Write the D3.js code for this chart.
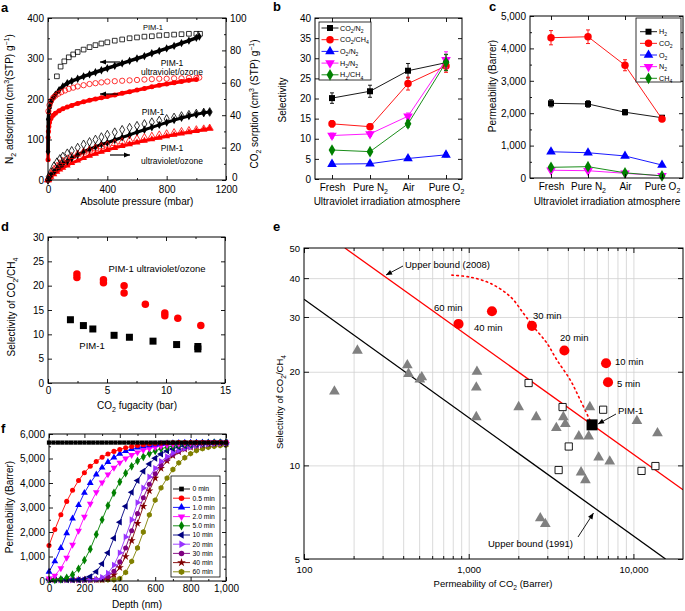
<!DOCTYPE html>
<html><head><meta charset="utf-8">
<script src="https://cdn.jsdelivr.net/npm/d3@7/dist/d3.min.js"></script>
<style>html,body{margin:0;padding:0;background:#fff}svg{display:block}</style>
</head><body>
<svg id="chart" width="685" height="611"></svg>
<script>
// ================= DATA =================
// ---- Panel a (N2 left axis, CO2 right axis) ----
const aXTicks=[0,400,800,1200], aXMinor=[200,600,1000];
const aYTicks=[0,100,200,300,400], aYMinor=[50,150,250,350];
const aY2Ticks=[0,20,40,60,80,100], aY2Minor=[10,30,50,70,90];
const aPimN2AdsP=[0.5,2,5,10,20,35,50,75,100,130,160,200,240,280,320,360,400,450,500,550,600,650,700,750,800,850,900,950,1000,1020];
const aPimN2Ads =[70,150,165,178,192,203,211,222,231,239,244,250,256,261,266,271,276,282,288,294,300,306,313,319,325,331,338,344,351,354];
const aPimN2DesP=[60,85,110,140,170,200,240,280,320,360,400,450,500,550,600,650,700,750,800,850,900,950,1000,1025];
const aPimN2Des =[256,280,293,303,310,316,322,328,333,337,340,344,347,350,352,354,355,357,358,359,360,361,361,361];
const aUvN2AdsP=[0.5,1,3,6,10,20,35,50,75,100,130,160,200,240,280,320,360,400,450,500,550,600,650,700,750,800,850,900,950,1000];
const aUvN2Ads =[50,105,120,132,142,152,160,165,171,176,180,184,189,193,197,200,203,206,210,214,218,222,226,230,234,237,240,243,246,248];
const aUvN2DesP=[3,10,20,35,50,70,90,115,140,170,200,240,280,320,360,400,450,500,550,600,650,700,750,800,850,900,950,1000,1020];
const aUvN2Des =[170,185,195,203,208,213,217,221,225,228,231,234,237,239,241,243,244,245,246,247,248,249,250,250,251,251,252,252,253];
const aCo2P=[0,5,20,40,60,80,100,130,160,200,240,280,320,360,400,450,500,550,600,650,700,750,800,850,900,950,1000,1050,1090];
const aPimCo2Des=[0,2,5,8.5,11,13,14.5,16.5,18,20,22,23.5,25,26.5,28,29.5,31,32.3,33.5,34.6,35.7,36.7,37.7,38.6,39.5,40.3,41,41.7,42];
const aPimCo2Ads=[0,1,3,5,7,8.5,10,11.5,13.5,15.5,17.5,19,20.5,22,23,24.7,26.3,27.8,29.5,31,32.5,34,35.5,37,38.3,39.5,40.5,41.5,42];
const aUvCo2Des=[0,1.5,4,6.5,8.5,10,11.5,13,14.5,16,17.3,18.5,19.6,20.6,21.6,22.6,23.6,24.5,25.4,26.2,27,27.8,28.5,29.2,29.9,30.5,31,31.5,32];
const aUvCo2Ads=[0,0.5,2,3.5,5,6.5,7.5,9,10.5,12,13.5,15,16.2,17.4,18.5,19.8,21,22.1,23.2,24.2,25.2,26.1,27,27.9,28.7,29.5,30.3,31.1,31.8];

// ---- Panel b (selectivity) ----
const bCategories=["Fresh","Pure N{_2}","Air","Pure O{_2}"];
const bYTicks=[0,5,10,15,20,25,30,35,40];
const bNames=["CO{_2}/N{_2}","CO{_2}/CH{_4}","O{_2}/N{_2}","H{_2}/N{_2}","H{_2}/CH{_4}"];
const bCO2N2=[20.1,21.8,26.9,28.9],  bCO2N2Err=[1.3,1.5,1.8,2.0];
const bCO2CH4=[13.7,13.0,23.7,28.1], bCO2CH4Err=[0.8,0.7,1.6,1.6];
const bO2N2=[3.7,3.8,5.1,6.0],       bO2N2Err=[0.5,0.4,0.5,0.5];
const bH2N2=[10.8,11.2,15.6,29.6],   bH2N2Err=[0.6,0.6,0.8,2.0];
const bH2CH4=[7.2,6.8,13.7,29.0],    bH2CH4Err=[0.4,0.4,0.8,2.0];

// ---- Panel c (permeability) ----
const cYTicks=[0,1000,2000,3000,4000,5000], cYMinor=[500,1500,2500,3500,4500];
const cNames=["H{_2}","CO{_2}","O{_2}","N{_2}","CH{_4}"];
const cH2=[2305,2285,2030,1860],  cH2Err=[110,100,80,70];
const cCO2=[4330,4360,3480,1820], cCO2Err=[220,210,170,80];
const cO2=[810,780,680,400],      cO2Err=[50,50,40,30];
const cN2=[240,225,145,70],       cN2Err=[20,20,15,10];
const cCH4=[330,350,160,65],      cCH4Err=[20,20,15,10];

// ---- Panel d ----
const dXTicks=[0,5,10,15], dXMinor=[2.5,7.5,12.5], dYTicks=[0,5,10,15,20,25,30];
const dUvX=[2.45,2.45,4.7,4.7,6.45,6.45,8.25,9.9,9.9,11.0,12.95];
const dUvY=[22.4,21.7,21.2,20.6,20.0,18.5,16.2,14.4,13.8,13.3,11.8];
const dPimX=[1.9,3.0,3.8,5.6,6.9,8.9,10.9,12.7,12.7];
const dPimY=[13.0,11.8,11.1,9.8,9.4,8.6,7.9,7.5,7.0];

// ---- Panel e (Robeson plot) ----
const eXTicks=[100,1000,10000], eXMinor=[200,300,400,500,600,700,800,900,2000,3000,4000,5000,6000,7000,8000,9000];
const eYTicks=[5,10,20,30,40,50], eYGrid=[10,20,30,40];
const eTriP=[211,153,424,431,505,519,1122,1112,1112,2010,2570,3404,3754,3860,4660,5350,5440,6150,7180,4810,5110,10500,14000,2720,2917];
const eTriS=[23.4,17.3,21.0,19.7,18.9,19.2,20.0,17.8,14.3,15.4,14.3,13.2,14.3,13.6,12.4,12.4,15.4,10.6,10.3,9.5,8.97,13.9,12.7,6.76,6.48];
const eSqP=[2310,3715,6550,4050,3515,11200,13600];
const eSqS=[18.4,15.4,15.1,11.5,9.66,9.6,9.95];
const eUvP=[867,1384,2421,3810,6820,7010];
const eUvS=[28.5,31.3,28.1,23.4,21.3,18.5];
const eUvLabels=["60 min","40 min","30 min","20 min","10 min","5 min"];
const ePimP=[5610], ePimS=[13.5];
const eBound2008P=[177,20000], eBound2008S=[50,8.35];
const eBound1991P=[100,15670], eBound1991S=[34.2,5];
const eDotP=[791,1021,1351,1787,2152,2476,2987,3436,4140,4763,5610];
const eDotS=[40.9,40.3,38.5,34.9,30.8,27.9,24.7,21.8,18.8,16.2,13.5];

// ---- Panel f (depth profiles) ----
const fXTicks=[0,200,400,600,800,1000], fXMinor=[100,300,500,700,900];
const fYTicks=[0,1000,2000,3000,4000,5000,6000], fYMinor=[500,1500,2500,3500,4500,5500];
const fLabels=["0 min","0.5 min","1.0 min","2.0 min","5.0 min","10 min","20 min","30 min","40 min","60 min"];
const f0Depth=[0,25,50,75,100,125,150,175,200,225,250,275,300,325,350,375,400,425,450,475,500,525,550,575,600,625,650,675,700,725,750,775,800,825,850,875,900,925,950,975,1000];
const f0Perm=[5650,5650,5650,5650,5650,5650,5650,5650,5650,5650,5650,5650,5650,5650,5650,5650,5650,5650,5650,5650,5650,5650,5650,5650,5650,5650,5650,5650,5650,5650,5650,5650,5650,5650,5650,5650,5650,5650,5650,5650,5650];
const fDepth=[0,33,67,100,133,167,200,233,267,300,333,367,400,433,467,500,533,567,600,633,667,700,733,767,800,833,867,900,933,967,1000];
const f05=[1450,2100,2700,3250,3700,4100,4420,4680,4880,5050,5180,5290,5370,5440,5490,5530,5560,5590,5610,5625,5635,5645,5650,5650,5650,5650,5650,5650,5650,5650,5650];
const f10=[380,800,1350,1950,2550,3100,3600,4000,4350,4630,4860,5040,5190,5300,5390,5450,5500,5540,5570,5600,5620,5630,5640,5650,5650,5650,5650,5650,5650,5650,5650];
const f20=[100,220,520,950,1480,2050,2620,3150,3620,4020,4350,4620,4830,5000,5140,5250,5340,5410,5460,5510,5550,5580,5600,5620,5630,5640,5650,5650,5650,5650,5650];
const f50=[50,50,70,130,260,500,850,1300,1900,2500,3080,3600,4050,4400,4680,4900,5070,5200,5310,5400,5460,5510,5550,5580,5600,5620,5630,5640,5650,5650,5650];
const f100=[50,50,50,50,50,50,80,180,380,700,1150,1750,2400,3050,3620,4100,4480,4780,5010,5180,5310,5400,5470,5520,5560,5590,5610,5630,5640,5650,5650];
const f200=[50,50,50,50,50,50,50,50,70,150,320,650,1150,1800,2500,3200,3800,4250,4600,4880,5080,5230,5340,5420,5480,5530,5560,5590,5610,5620,5630];
const f300=[50,50,50,50,50,50,50,50,50,80,180,400,780,1350,2050,2750,3400,3950,4380,4720,4980,5160,5300,5400,5470,5520,5560,5590,5610,5620,5630];
const f400=[50,50,50,50,50,50,50,50,50,50,100,250,550,1000,1650,2350,3050,3680,4200,4600,4900,5120,5270,5380,5460,5510,5550,5580,5600,5610,5620];
const f600=[50,50,50,50,50,50,50,50,50,50,50,50,100,350,800,1350,2000,2700,3300,3800,4200,4550,4820,5030,5200,5320,5400,5460,5500,5530,5550];

// ================= HELPERS =================
const FONT="'Liberation Sans', Arial, Helvetica, sans-serif";
const svg=d3.select("#chart").attr("font-family",FONT);
svg.append("rect").attr("width",685).attr("height",611).attr("fill","#fff");

function rich(t,str,fs){
  t.text(null);
  const parts=[];const re=/\{([_^])([^}]*)\}/g;let last=0,m;
  while((m=re.exec(str))){ if(m.index>last) parts.push([str.slice(last,m.index),0]); parts.push([m[2],m[1]==="_"?1:-1]); last=re.lastIndex; }
  if(last<str.length) parts.push([str.slice(last),0]);
  let cur=0;
  parts.forEach(([s,k])=>{
    const off=k===1?fs*0.3:(k===-1?-fs*0.4:0);
    const ts=t.append("tspan").text(s);
    if(off!==cur) ts.attr("dy",off-cur);
    if(k) ts.attr("font-size",fs*0.7);
    cur=off;
  });
}
function txt(g,x,y,str,o={}){
  const fs=o.fs||10;
  const t=g.append("text").attr("x",x).attr("y",y).attr("font-size",fs).attr("fill",o.fill||"#000")
    .attr("text-anchor",o.anchor||"start");
  if(o.bold) t.attr("font-weight","bold");
  if(o.rotate) t.attr("transform",`rotate(${o.rotate},${x},${y})`);
  rich(t,str,fs);
  return t;
}
function axes(g,o){
  const [fx0,fx1,fy0,fy1]=o.frame, fs=o.fs||10, tl=o.tl||4, ml=o.ml||2;
  const put=(gen,tr,vals,len,fmt,pad)=>{
    if(!vals||!vals.length) return null;
    const s=g.append("g").attr("transform",tr)
      .call(gen.tickValues(vals).tickSizeInner(-len).tickSizeOuter(0).tickPadding(pad).tickFormat(fmt?((d,i)=>fmt(d,i)):(()=>"")));
    s.select(".domain").remove();
    s.attr("font-family",FONT).attr("font-size",fs);
    s.selectAll("line").attr("stroke","#000").attr("stroke-width",0.9);
    if(fmt) s.selectAll("text").attr("fill","#000").each(function(d,i){ rich(d3.select(this),fmt(d,i),fs); });
    return s;
  };
  const res={};
  res.x=put(d3.axisBottom(o.x),`translate(0,${fy1})`,o.xt,tl,o.xf,o.padX||4);
  put(d3.axisBottom(o.x),`translate(0,${fy1})`,o.xm,ml,null,0);
  put(d3.axisTop(o.x),`translate(0,${fy0})`,o.xt,tl,null,0);
  put(d3.axisTop(o.x),`translate(0,${fy0})`,o.xm,ml,null,0);
  res.y=put(d3.axisLeft(o.y),`translate(${fx0},0)`,o.yt,tl,o.yf,o.padY||4);
  put(d3.axisLeft(o.y),`translate(${fx0},0)`,o.ym,ml,null,0);
  const yr=o.y2||o.y;
  res.y2=put(d3.axisRight(yr),`translate(${fx1},0)`,o.y2?o.y2t:o.yt,tl,o.y2f||null,o.padY||4);
  put(d3.axisRight(yr),`translate(${fx1},0)`,o.y2?o.y2m:o.ym,ml,null,0);
  g.append("rect").attr("x",fx0).attr("y",fy0).attr("width",fx1-fx0).attr("height",fy1-fy0)
    .attr("fill","none").attr("stroke","#000").attr("stroke-width",1);
  return res;
}
const hexagon={draw(ctx,size){const r=Math.sqrt(size/(1.5*Math.sqrt(3)));for(let i=0;i<6;i++){const a=Math.PI/3*i+Math.PI/6;const px=r*Math.cos(a),py=r*Math.sin(a);if(i)ctx.lineTo(px,py);else ctx.moveTo(px,py);}ctx.closePath();}};
const SYM={square:[d3.symbolSquare,0],circle:[d3.symbolCircle,0],tri:[d3.symbolTriangle,0],triDown:[d3.symbolTriangle,180],
  triLeft:[d3.symbolTriangle,-90],triRight:[d3.symbolTriangle,90],diamond:[d3.symbolDiamond,0],star:[d3.symbolStar,0],hex:[hexagon,0]};
function marks(g,xs,ys,x,y,shape,size,fill,stroke,sw){
  const [type,rot]=SYM[shape];
  g.append("g").selectAll("path").data(xs.map((v,i)=>[v,ys[i]])).join("path")
    .attr("d",d3.symbol(type,size)())
    .attr("transform",d=>`translate(${x(d[0])},${y(d[1])})`+(rot?` rotate(${rot})`:""))
    .attr("fill",fill).attr("stroke",stroke||"none").attr("stroke-width",sw||1);
}
function marker1(g,cx,cy,shape,size,fill,stroke,sw){
  const [type,rot]=SYM[shape];
  g.append("path").attr("d",d3.symbol(type,size)()).attr("transform",`translate(${cx},${cy})`+(rot?` rotate(${rot})`:""))
   .attr("fill",fill).attr("stroke",stroke||"none").attr("stroke-width",sw||1);
}
function pline(g,xs,ys,x,y,color,w,curve,dash){
  const p=g.append("path").datum(xs.map((v,i)=>[v,ys[i]]))
    .attr("d",d3.line(d=>x(d[0]),d=>y(d[1])).curve(curve||d3.curveLinear))
    .attr("fill","none").attr("stroke",color).attr("stroke-width",w).attr("stroke-linejoin","round");
  if(dash) p.attr("stroke-dasharray",dash);
  return p;
}
function errbars(g,xs,ys,es,x,y,color){
  xs.forEach((c,i)=>{
    const cx=x(c),y1=y(ys[i]-es[i]),y2=y(ys[i]+es[i]);
    g.append("line").attr("x1",cx).attr("x2",cx).attr("y1",y1).attr("y2",y2).attr("stroke",color).attr("stroke-width",0.9);
    [y1,y2].forEach(yy=>g.append("line").attr("x1",cx-2).attr("x2",cx+2).attr("y1",yy).attr("y2",yy).attr("stroke",color).attr("stroke-width",0.9));
  });
}
function arrow(g,x1,y1,x2,y2,color,w){
  g.append("line").attr("x1",x1).attr("y1",y1).attr("x2",x2).attr("y2",y2).attr("stroke",color).attr("stroke-width",w||1);
  const a=Math.atan2(y2-y1,x2-x1),L=6,W=2.6;
  const p=[[x2,y2],[x2-L*Math.cos(a)+W*Math.sin(a),y2-L*Math.sin(a)-W*Math.cos(a)],[x2-L*Math.cos(a)-W*Math.sin(a),y2-L*Math.sin(a)+W*Math.cos(a)]];
  g.append("path").attr("d","M"+p.map(q=>q.join(",")).join("L")+"Z").attr("fill",color);
}
const comma=d3.format(",");

// ================= PANEL a =================
{
  const g=svg.append("g");
  const x=d3.scaleLinear([0,1200],[48,226]), y=d3.scaleLinear([0,400],[180,18]), y2=d3.scaleLinear([0,100],[180,18]);
  pline(g,aCo2P,aUvCo2Ads,x,y2,"#ff0000",3);
  marks(g,aCo2P,aUvCo2Ads,x,y2,"tri",20,"#ff0000");
  pline(g,aCo2P,aPimCo2Ads,x,y2,"#000",3);
  marks(g,aCo2P,aPimCo2Ads,x,y2,"diamond",20,"#000");
  marks(g,aCo2P,aUvCo2Des,x,y2,"tri",22,"none","#ff0000",0.8);
  marks(g,aCo2P,aPimCo2Des,x,y2,"diamond",22,"none","#000",0.8);
  pline(g,aUvN2AdsP,aUvN2Ads,x,y,"#ff0000",3.5);
  marks(g,aUvN2AdsP,aUvN2Ads,x,y,"circle",20,"#ff0000");
  pline(g,aPimN2AdsP,aPimN2Ads,x,y,"#000",3.5);
  marks(g,aPimN2AdsP,aPimN2Ads,x,y,"diamond",20,"#000");
  marks(g,aUvN2DesP,aUvN2Des,x,y,"circle",22,"none","#ff0000",0.8);
  marks(g,aPimN2DesP,aPimN2Des,x,y,"square",22,"none","#000",0.8);
  const ax=axes(g,{x,y,y2,frame:[48,226,18,180],xt:aXTicks,xm:aXMinor,xf:d=>String(d),yt:aYTicks,ym:aYMinor,yf:d=>String(d),
    y2t:aY2Ticks,y2m:aY2Minor,y2f:d=>String(d),fs:10,padX:6});
  ax.y2.selectAll(".tick text").filter(d=>d===0).attr("y",-3).attr("x",6);
  arrow(g,120,62,100,62,"#000",1.2);
  arrow(g,118,94,100,94,"#000",1.2);
  arrow(g,110,155,130,155,"#000",1.2);
  txt(g,153,30,"PIM-1",{fs:7.5,anchor:"middle"});
  txt(g,172,66,"PIM-1",{fs:8.5,anchor:"middle"});
  txt(g,172,75,"ultraviolet/ozone",{fs:8.5,anchor:"middle"});
  txt(g,153,115,"PIM-1",{fs:8.5,anchor:"middle"});
  txt(g,172,151,"PIM-1",{fs:8.5,anchor:"middle"});
  txt(g,172,164,"ultraviolet/ozone",{fs:8.5,anchor:"middle"});
  txt(g,137,205,"Absolute pressure (mbar)",{fs:10,anchor:"middle"});
  txt(g,13,99,"N{_2} adsorption (cm{^3}(STP) g{^−1})",{fs:10,anchor:"middle",rotate:-90});
  txt(g,258,104,"CO{_2} sorption (cm{^3} (STP) g{^−1})",{fs:10,anchor:"middle",rotate:-90});
  txt(g,1,12,"a",{fs:13,bold:true});
}

// ================= PANEL b =================
{
  const g=svg.append("g");
  const x=d3.scalePoint(bCategories,[332,446]), y=d3.scaleLinear([0,40],[179,18]);
  const S=[[bCO2N2,bCO2N2Err,"#000","square",36],[bCO2CH4,bCO2CH4Err,"#ff0000","circle",44],[bO2N2,bO2N2Err,"#0000ff","tri",40],
           [bH2N2,bH2N2Err,"#ff00ff","triDown",40],[bH2CH4,bH2CH4Err,"#008000","diamond",40]];
  S.forEach(([v,e,c,sh,sz])=>{
    pline(g,bCategories,v,x,y,c,0.9);
    errbars(g,bCategories,v,e,x,y,c);
    marks(g,bCategories,v,x,y,sh,sz,c);
  });
  axes(g,{x,y,frame:[315,462,18,179],xt:bCategories,xf:d=>d,yt:bYTicks,yf:d=>String(d),fs:10,padX:5});
  g.append("rect").attr("x",319).attr("y",22).attr("width",52).attr("height",58).attr("fill","#fff").attr("stroke","#000").attr("stroke-width",0.8);
  S.forEach(([v,e,c,sh,sz],i)=>{
    const yy=28+i*11.7;
    g.append("line").attr("x1",321.5).attr("x2",338.5).attr("y1",yy).attr("y2",yy).attr("stroke",c).attr("stroke-width",0.9);
    marker1(g,330,yy,sh,sz,c);
    txt(g,340,yy+2.6,bNames[i],{fs:7.2});
  });
  txt(g,387,205,"Ultraviolet irradiation atmosphere",{fs:10,anchor:"middle"});
  txt(g,286,100,"Selectivity",{fs:10,anchor:"middle",rotate:-90});
  txt(g,273,11,"b",{fs:13,bold:true});
}

// ================= PANEL c =================
{
  const g=svg.append("g");
  const x=d3.scalePoint(bCategories,[551,662]), y=d3.scaleLinear([0,5000],[178,16]);
  const S=[[cH2,cH2Err,"#000","square",36],[cCO2,cCO2Err,"#ff0000","circle",44],[cO2,cO2Err,"#0000ff","tri",40],
           [cN2,cN2Err,"#ff00ff","triDown",40],[cCH4,cCH4Err,"#008000","diamond",40]];
  S.forEach(([v,e,c,sh,sz])=>{
    pline(g,bCategories,v,x,y,c,0.9);
    errbars(g,bCategories,v,e,x,y,c);
    marks(g,bCategories,v,x,y,sh,sz,c);
  });
  axes(g,{x,y,frame:[530,683,16,178],xt:bCategories,xf:d=>d,yt:cYTicks,ym:cYMinor,yf:d=>comma(d),fs:10,padX:5});
  g.append("rect").attr("x",636).attr("y",18).attr("width",45).attr("height",64).attr("fill","#fff").attr("stroke","#000").attr("stroke-width",0.8);
  S.forEach(([v,e,c,sh,sz],i)=>{
    const yy=31.7+i*11.65;
    g.append("line").attr("x1",640).attr("x2",657).attr("y1",yy).attr("y2",yy).attr("stroke",c).attr("stroke-width",0.9);
    marker1(g,648.5,yy,sh,sz,c);
    txt(g,659,yy+2.6,cNames[i],{fs:7.2});
  });
  txt(g,607,205,"Ultraviolet irradiation atmosphere",{fs:10,anchor:"middle"});
  txt(g,496,86,"Permeability (Barrer)",{fs:10,anchor:"middle",rotate:-90});
  txt(g,489,11,"c",{fs:13,bold:true});
}

// ================= PANEL d =================
{
  const g=svg.append("g");
  const x=d3.scaleLinear([0,15],[48,225]), y=d3.scaleLinear([0,30],[383,237]);
  marks(g,dUvX,dUvY,x,y,"circle",44,"#ff0000");
  marks(g,dPimX,dPimY,x,y,"square",49,"#000");
  axes(g,{x,y,frame:[48,225,237,383],xt:dXTicks,xm:dXMinor,xf:d=>String(d),yt:dYTicks,yf:d=>String(d),fs:10});
  txt(g,157,272,"PIM-1 ultraviolet/ozone",{fs:9.5,anchor:"middle"});
  txt(g,92,349,"PIM-1",{fs:9.5,anchor:"middle"});
  txt(g,137,409,"CO{_2} fugacity (bar)",{fs:10,anchor:"middle"});
  txt(g,15,307,"Selectivity of CO{_2}/CH{_4}",{fs:10,anchor:"middle",rotate:-90});
  txt(g,1,231,"d",{fs:13,bold:true});
}

// ================= PANEL e =================
{
  const g=svg.append("g");
  const x=d3.scaleLog([100,20000],[304,683]), y=d3.scaleLog([5,50],[559,248]);
  g.append("defs").append("clipPath").attr("id","clipE").append("rect").attr("x",304).attr("y",248).attr("width",379).attr("height",311);
  const gx=g.append("g").attr("transform","translate(0,559)")
    .call(d3.axisBottom(x).tickValues(eXMinor.concat([1000,10000])).tickSizeInner(-311).tickSizeOuter(0).tickFormat(()=>""));
  gx.select(".domain").remove(); gx.selectAll("line").attr("stroke","#d0d0d0").attr("stroke-width",0.8);
  const gy=g.append("g").attr("transform","translate(304,0)")
    .call(d3.axisLeft(y).tickValues(eYGrid).tickSizeInner(-379).tickSizeOuter(0).tickFormat(()=>""));
  gy.select(".domain").remove(); gy.selectAll("line").attr("stroke","#d0d0d0").attr("stroke-width",0.8);
  const gc=g.append("g").attr("clip-path","url(#clipE)");
  pline(gc,eBound1991P,eBound1991S,x,y,"#000",1.3);
  pline(gc,eBound2008P,eBound2008S,x,y,"#ff0000",1.3);
  pline(gc,eDotP,eDotS,x,y,"#ff0000",1.6,d3.curveCatmullRom,"1.5,3.5").attr("stroke-linecap","round");
  marks(g,eTriP,eTriS,x,y,"tri",50,"#808080");
  marks(g,eSqP,eSqS,x,y,"square",52,"#fff","#000",0.9);
  marks(g,eUvP,eUvS,x,y,"circle",80,"#ff0000");
  marks(g,ePimP,ePimS,x,y,"square",121,"#000");
  axes(g,{x,y,frame:[304,683,248,559],xt:eXTicks,xm:eXMinor,xf:d=>comma(d),yt:eYTicks,yf:d=>String(d),fs:9.5,tl:5,ml:3,padX:7});
  const lp=[[434,310.5],[474,330.5],[533,319],[560,341],[615,365],[617,386.5]];
  eUvLabels.forEach((s,i)=>txt(g,lp[i][0],lp[i][1],s,{fs:9.5}));
  txt(g,405,267.5,"Upper bound (2008)",{fs:9.5});
  arrow(g,403,266,386,275,"#000",0.9);
  txt(g,488,546.5,"Upper bound (1991)",{fs:9.5});
  arrow(g,578,537,593.5,513,"#000",0.9);
  txt(g,618,414,"PIM-1",{fs:9.5});
  arrow(g,616,414,598,424,"#000",0.9);
  txt(g,493,587,"Permeability of CO{_2} (Barrer)",{fs:9.5,anchor:"middle"});
  txt(g,283,402,"Selectivity of CO{_2}/CH{_4}",{fs:9.5,anchor:"middle",rotate:-90});
  txt(g,273,231,"e",{fs:13,bold:true});
}

// ================= PANEL f =================
{
  const g=svg.append("g");
  const x=d3.scaleLinear([0,1000],[49,226]), y=d3.scaleLinear([0,6000],[581,434]);
  const S=[[fDepth,f600,"#808000","hex",22],[fDepth,f400,"#800000","star",20],[fDepth,f300,"#800080","circle",20],
           [fDepth,f200,"#9933ff","triRight",20],[fDepth,f100,"#000080","triLeft",20],[fDepth,f50,"#008000","diamond",22],
           [fDepth,f20,"#ff00ff","triDown",20],[fDepth,f10,"#0000ff","tri",20],[fDepth,f05,"#ff0000","circle",20],
           [f0Depth,f0Perm,"#000","square",18]];
  S.forEach(([xs,v,c,sh,sz])=>{ pline(g,xs,v,x,y,c,0.9); marks(g,xs,v,x,y,sh,sz,c); });
  axes(g,{x,y,frame:[49,226,434,581],xt:fXTicks,xm:fXMinor,xf:d=>comma(d),yt:fYTicks,ym:fYMinor,yf:d=>comma(d),fs:10});
  g.append("rect").attr("x",171).attr("y",476).attr("width",49).attr("height",101).attr("fill","#fff").attr("stroke","#000").attr("stroke-width",0.8);
  const L=S.slice().reverse();
  L.forEach(([xs,v,c,sh,sz],i)=>{
    const yy=489+i*9.2;
    g.append("line").attr("x1",173).attr("x2",190).attr("y1",yy).attr("y2",yy).attr("stroke",c).attr("stroke-width",0.9);
    marker1(g,181.5,yy,sh,sz+4,c);
    txt(g,192.5,yy+2.4,fLabels[i],{fs:6.8});
  });
  txt(g,137,608,"Depth (nm)",{fs:10,anchor:"middle"});
  txt(g,13,507,"Permeability (Barrer)",{fs:10,anchor:"middle",rotate:-90});
  txt(g,1,433,"f",{fs:13,bold:true});
}
</script>
</body></html>
